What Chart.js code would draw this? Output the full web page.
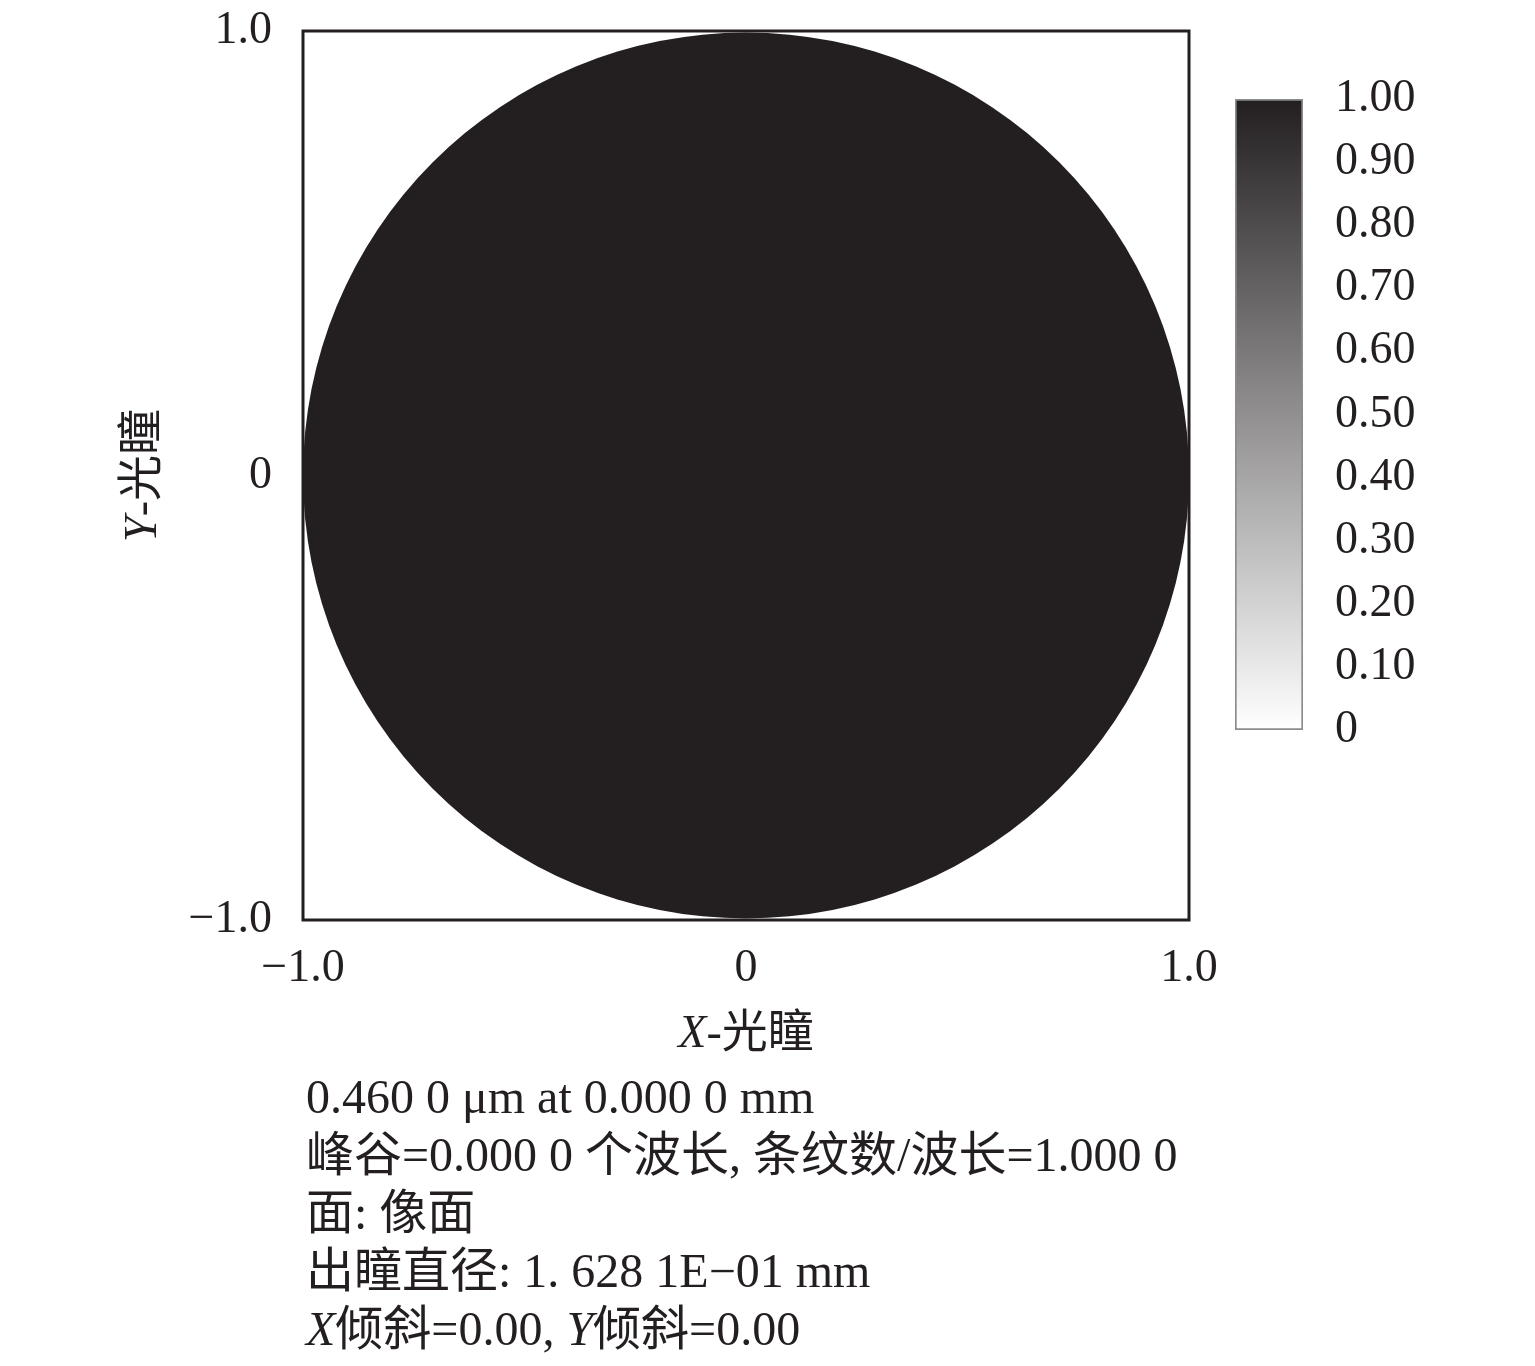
<!DOCTYPE html>
<html lang="zh">

<head>
    <meta charset="UTF-8">
    <title>干涉图</title>
    <style>
        body { margin: 0; background: #fff; }
        #wrap { position: relative; width: 1535px; height: 1366px; }
        #main { position: absolute; left: 0; top: 0; }
        #bar { position: absolute; left: 1235px; top: 78px; }
        #notes {
            position: absolute; left: 306px; top: 1068px;
            font: 48px 'Liberation Serif', 'Noto Sans CJK SC', serif;
            line-height: 58px; color: #231f20; white-space: nowrap;
        }
    </style>
</head>

<body>
    <div id="wrap">
        <canvas id="main" width="1535" height="1366"></canvas>
        <canvas id="bar" width="300" height="674"></canvas>
        <div id="notes"></div>
    </div>

    <script src="https://cdn.jsdelivr.net/npm/chart.js"></script>
    <script>
        // pupil data: one disk of relative intensity 1 over the unit pupil
        const pupilCenter = [{ x: 0, y: 0 }];
        const pupilRadius = 1.0;
        const xTicks = [-1, 0, 1];
        const yTicks = [-1, 0, 1];
        // axis titles: [italic part, upright part]
        const xTitle = ['X', '-光瞳'];
        const yTitle = ['Y', '-光瞳'];
        // colour bar
        const barRange = [0, 1];
        const barTicks = [0, 0.1, 0.2, 0.3, 0.4, 0.5, 0.6, 0.7, 0.8, 0.9, 1.0];
        const notes = [
            '0.460 0 μm at 0.000 0 mm',
            '峰谷=0.000 0 个波长, 条纹数/波长=1.000 0',
            '面: 像面',
            '出瞳直径: 1. 628 1E−01 mm',
            '<i>X</i>倾斜=0.00, <i>Y</i>倾斜=0.00'
        ];

        const ink = '#231f20';
        const fam = "'Liberation Serif', 'Noto Sans CJK SC', serif";
        Chart.defaults.font.family = fam;
        Chart.defaults.color = ink;

        const fmtAxis = v => v === 0 ? '0' : (v < 0 ? '\u2212' : '') + Math.abs(v).toFixed(1);

        // draws "italic letter + upright rest" centred on (0,0)
        function mixedTitle(ctx, parts) {
            ctx.font = 'italic 46px ' + fam;
            const w1 = ctx.measureText(parts[0]).width;
            ctx.font = '46px ' + fam;
            const w2 = ctx.measureText(parts[1]).width;
            const x0 = -(w1 + w2) / 2;
            ctx.textAlign = 'left';
            ctx.textBaseline = 'middle';
            ctx.font = 'italic 46px ' + fam;
            ctx.fillText(parts[0], x0, 0);
            ctx.font = '46px ' + fam;
            ctx.fillText(parts[1], x0 + w1, 0);
        }

        // frame around the plot area + axis titles
        const frame = {
            id: 'frame',
            afterDatasetsDraw(chart) {
                const { ctx, chartArea: a } = chart;
                ctx.save();
                ctx.strokeStyle = ink;
                ctx.lineWidth = 3;
                ctx.strokeRect(a.left, a.top, a.right - a.left, a.bottom - a.top);
                ctx.restore();
            },
            afterDraw(chart) {
                const { ctx, chartArea: a, scales } = chart;
                ctx.save();
                ctx.fillStyle = ink;
                ctx.translate((a.left + a.right) / 2, scales.x.bottom - 30);
                mixedTitle(ctx, xTitle);
                ctx.restore();
                ctx.save();
                ctx.fillStyle = ink;
                ctx.translate(scales.y.left + 144, (a.top + a.bottom) / 2);
                ctx.rotate(-Math.PI / 2);
                mixedTitle(ctx, yTitle);
                ctx.restore();
            }
        };

        new Chart(document.getElementById('main'), {
            type: 'scatter',
            data: {
                datasets: [{
                    data: pupilCenter,
                    backgroundColor: ink,
                    borderWidth: 0,
                    pointStyle: 'circle',
                    // radius in pixels taken from the x scale
                    pointRadius: c => {
                        const s = c.chart.scales.x;
                        return s.getPixelForValue(pupilRadius) - s.getPixelForValue(0);
                    }
                }]
            },
            options: {
                responsive: false,
                animation: false,
                events: [],
                layout: { padding: { left: 0, top: 31, right: 346, bottom: 301 } },
                plugins: { legend: { display: false }, tooltip: { enabled: false } },
                scales: {
                    x: {
                        min: -1, max: 1,
                        grid: { display: false },
                        border: { display: false },
                        afterBuildTicks: ax => { ax.ticks = xTicks.map(v => ({ value: v })); },
                        afterFit: ax => { ax.height = 145; ax.paddingLeft = 0; ax.paddingRight = 0; },
                        ticks: { font: { size: 46 }, padding: 13, maxRotation: 0, callback: fmtAxis }
                    },
                    y: {
                        min: -1, max: 1,
                        grid: { display: false },
                        border: { display: false },
                        afterBuildTicks: ax => { ax.ticks = yTicks.map(v => ({ value: v })); },
                        afterFit: ax => { ax.width = 303; ax.paddingTop = 0; ax.paddingBottom = 0; },
                        ticks: { font: { size: 46 }, padding: 23, callback: fmtAxis }
                    }
                }
            },
            plugins: [frame]
        });

        new Chart(document.getElementById('bar'), {
            type: 'bar',
            data: {
                labels: [''],
                datasets: [{
                    data: [barRange],
                    backgroundColor: c => {
                        const a = c.chart.chartArea;
                        if (!a) return ink;
                        const g = c.chart.ctx.createLinearGradient(0, a.bottom, 0, a.top);
                        g.addColorStop(0, '#ffffff');
                        g.addColorStop(1, ink);
                        return g;
                    },
                    borderColor: '#8c8c8c',
                    borderWidth: 2,
                    borderSkipped: false,
                    barPercentage: 1,
                    categoryPercentage: 1
                }]
            },
            options: {
                responsive: false,
                animation: false,
                events: [],
                layout: { padding: { left: 0, top: 21, right: 0, bottom: 22 } },
                plugins: { legend: { display: false }, tooltip: { enabled: false } },
                scales: {
                    x: { display: false },
                    y: {
                        position: 'right',
                        min: 0, max: 1,
                        grid: { display: false },
                        border: { display: false },
                        afterBuildTicks: ax => { ax.ticks = barTicks.map(v => ({ value: v })); },
                        afterFit: ax => { ax.width = 232; ax.paddingTop = 0; ax.paddingBottom = 0; },
                        ticks: {
                            font: { size: 46 }, padding: 24,
                            callback: v => v === 0 ? '0' : v.toFixed(2)
                        }
                    }
                }
            }
        });

        document.getElementById('notes').innerHTML = notes.map(t => '<div>' + t + '</div>').join('');
    </script>
</body>

</html>
